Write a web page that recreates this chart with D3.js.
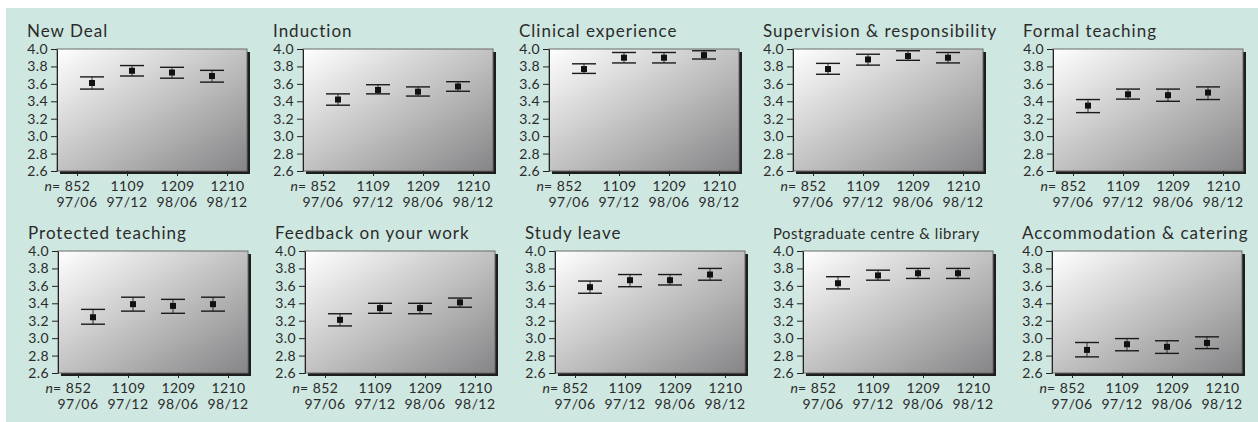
<!DOCTYPE html>
<head>
  <meta charset="utf-8">
  <script src="https://d3js.org/d3.v7.min.js"></script>
  <style>
    body { margin:0; background:#fff; }
    text { font-family: Lato, "Open Sans", sans-serif; fill:#2b2b2b; }
  </style>
</head>
<body>
<script>

  // Data
  var titles = ["New Deal", "Induction", "Clinical experience", "Supervision & responsibility", "Formal teaching",
                "Protected teaching", "Feedback on your work", "Study leave", "Postgraduate centre & library", "Accommodation & catering"];
  var waves = ["97/06", "97/12", "98/06", "98/12"];
  var nResp = [852, 1109, 1209, 1210];
  var yTicks = [2.6, 2.8, 3.0, 3.2, 3.4, 3.6, 3.8, 4.0];

  var means = [
    [3.61, 3.75, 3.73, 3.69],
    [3.42, 3.53, 3.51, 3.57],
    [3.77, 3.90, 3.90, 3.93],
    [3.77, 3.88, 3.92, 3.90],
    [3.35, 3.48, 3.47, 3.50],
    [3.24, 3.39, 3.37, 3.39],
    [3.21, 3.345, 3.345, 3.41],
    [3.585, 3.665, 3.665, 3.73],
    [3.63, 3.72, 3.745, 3.745],
    [2.865, 2.93, 2.90, 2.945]
  ];
  var lower = [
    [3.54, 3.69, 3.665, 3.62],
    [3.355, 3.485, 3.46, 3.515],
    [3.72, 3.84, 3.84, 3.885],
    [3.71, 3.815, 3.87, 3.84],
    [3.27, 3.425, 3.40, 3.42],
    [3.16, 3.31, 3.285, 3.31],
    [3.14, 3.285, 3.28, 3.355],
    [3.515, 3.59, 3.61, 3.665],
    [3.565, 3.665, 3.685, 3.685],
    [2.785, 2.855, 2.825, 2.88]
  ];
  var upper = [
    [3.68, 3.81, 3.79, 3.755],
    [3.485, 3.59, 3.565, 3.625],
    [3.83, 3.96, 3.96, 3.98],
    [3.835, 3.94, 3.98, 3.96],
    [3.42, 3.54, 3.54, 3.565],
    [3.33, 3.47, 3.445, 3.47],
    [3.28, 3.40, 3.40, 3.46],
    [3.655, 3.73, 3.73, 3.80],
    [3.705, 3.78, 3.80, 3.80],
    [2.95, 2.995, 2.97, 3.015]
  ];

  // Layout
  var width = 1258, height = 422;
  var plotLefts = [[57, 303, 549, 793, 1053], [58, 305, 555, 803, 1052]];
  var rowTops = [49, 251];
  var pw = 190, ph = 122;
  var axisFont = 14;

  var svg = d3.select("body").append("svg")
    .attr("width", width)
    .attr("height", height);

  var defs = svg.append("defs");
  var grad = defs.append("linearGradient")
    .attr("id", "plotbg")
    .attr("x1", 0).attr("y1", 0).attr("x2", 1).attr("y2", 1);
  grad.append("stop").attr("offset", "0%").attr("stop-color", "#ffffff");
  grad.append("stop").attr("offset", "100%").attr("stop-color", "#858587");

  svg.append("rect")
    .attr("x", 6).attr("y", 8)
    .attr("width", width - 6).attr("height", height - 8)
    .attr("fill", "#cee7e0");

  titles.forEach(function(title, k) {
    var row = k < 5 ? 0 : 1, col = k % 5;
    var left = plotLefts[row][col], top = rowTops[row];

    var y = d3.scaleLinear().domain([2.6, 4.0]).range([top + ph, top]);
    var xTick = d3.scalePoint().domain(waves).range([left + 20, left + 170]);
    var xPt = d3.scalePoint().domain(waves).range([left + 35, left + 155]);

    var g = svg.append("g");

    // shadow + plot area
    g.append("rect")
      .attr("x", left + 3).attr("y", top + 3)
      .attr("width", pw).attr("height", ph)
      .attr("fill", "#1e1e1e");
    g.append("rect")
      .attr("x", left).attr("y", top)
      .attr("width", pw).attr("height", ph)
      .attr("fill", "url(#plotbg)")
      .attr("stroke", "#6a6a6a")
      .attr("stroke-width", 1);

    // title, shrunk only when it would run past the panel
    var t = g.append("text")
      .attr("x", left - 30)
      .attr("y", top - 12)
      .attr("font-size", 17)
      .attr("letter-spacing", 1)
      .text(title);
    var len = t.node().getComputedTextLength();
    if (len > 240) t.attr("font-size", 17 * 215 / len).attr("letter-spacing", 0.6);

    // y axis
    var yAxis = d3.axisLeft(y)
      .tickValues(yTicks)
      .tickFormat(d3.format(".1f"))
      .tickSizeInner(6)
      .tickSizeOuter(0)
      .tickPadding(3);
    var ya = g.append("g")
      .attr("transform", "translate(" + left + ",0)")
      .call(yAxis);
    ya.select(".domain").attr("stroke", "#222");
    ya.selectAll("line").attr("stroke", "#222");
    ya.selectAll("text")
      .attr("font-size", axisFont)
      .attr("letter-spacing", 0.4)
      .attr("font-family", "Lato, sans-serif")
      .attr("fill", "#2b2b2b");

    // x axis (n counts)
    var xAxis = d3.axisBottom(xTick)
      .tickSizeInner(5)
      .tickSizeOuter(0)
      .tickPadding(5)
      .tickFormat(function(d, i) { return nResp[i]; });
    var xa = g.append("g")
      .attr("transform", "translate(0," + (top + ph) + ")")
      .call(xAxis);
    xa.select(".domain").remove();
    xa.selectAll("line").attr("stroke", "#222");
    xa.selectAll("text")
      .attr("font-size", axisFont)
      .attr("letter-spacing", 0.4)
      .attr("font-family", "Lato, sans-serif")
      .attr("fill", "#2b2b2b");

    var nl = g.append("text")
      .attr("x", xTick(waves[0]) - 17)
      .attr("y", top + ph + 20)
      .attr("text-anchor", "end")
      .attr("font-size", axisFont);
    nl.append("tspan").attr("font-style", "italic").text("n");
    nl.append("tspan").text("=");

    g.selectAll(".wave")
      .data(waves)
      .enter().append("text")
      .attr("class", "wave")
      .attr("x", function(d) { return xTick(d); })
      .attr("y", top + ph + 36)
      .attr("text-anchor", "middle")
      .attr("font-size", axisFont)
      .attr("letter-spacing", 0.4)
      .text(function(d) { return d; });

    // error bars
    var pts = waves.map(function(w, i) {
      return { w: w, m: means[k][i], lo: lower[k][i], hi: upper[k][i] };
    });
    var eb = g.selectAll(".eb").data(pts).enter().append("g").attr("class", "eb");
    eb.append("line")
      .attr("x1", function(d) { return xPt(d.w); })
      .attr("x2", function(d) { return xPt(d.w); })
      .attr("y1", function(d) { return y(d.lo); })
      .attr("y2", function(d) { return y(d.hi); })
      .attr("stroke", "#333").attr("stroke-width", 1);
    ["lo", "hi"].forEach(function(key) {
      eb.append("line")
        .attr("x1", function(d) { return xPt(d.w) - 12; })
        .attr("x2", function(d) { return xPt(d.w) + 12; })
        .attr("y1", function(d) { return y(d[key]); })
        .attr("y2", function(d) { return y(d[key]); })
        .attr("stroke", "#1a1a1a").attr("stroke-width", 1.4);
    });
    eb.append("rect")
      .attr("x", function(d) { return xPt(d.w) - 3; })
      .attr("y", function(d) { return y(d.m) - 3; })
      .attr("width", 6).attr("height", 6)
      .attr("fill", "#111");
  });

</script>
</body>
